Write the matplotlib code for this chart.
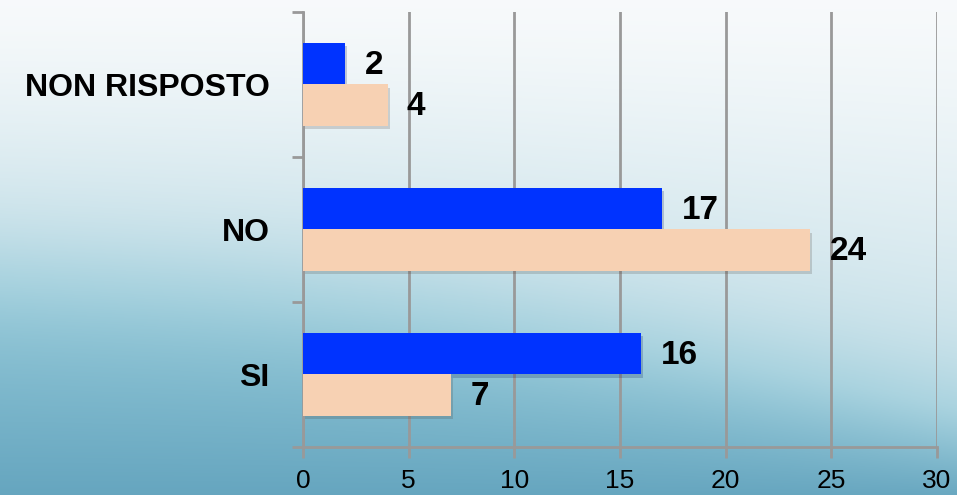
import numpy as np
import matplotlib.pyplot as plt
import matplotlib.patheffects as pe

categorie = ['SI', 'NO', 'NON RISPOSTO']
serie_blu = [16, 17, 2]
serie_pesca = [7, 24, 4]
tick_x = [0, 5, 10, 15, 20, 25, 30]

fig = plt.figure(figsize=(9.57, 4.95), dpi=100)

# sfondo: sfumatura chiara in alto, fascia azzurra in basso separata da un'onda
bg = fig.add_axes([0, 0, 1, 1])
xx, yy = np.meshgrid(np.linspace(0, 1, 480), np.linspace(0, 1, 250))
linea = 0.56 + 0.26 * xx - 0.05 * np.sin(xx * 3.2)
sopra_a = np.array([0.97, 0.98, 0.985])
sopra_b = np.array([0.76, 0.87, 0.905])
sotto_a = np.array([0.58, 0.79, 0.85])
sotto_b = np.array([0.40, 0.65, 0.75])
f1 = np.clip(yy / linea, 0, 1)[..., None] ** 1.3
sopra = sopra_a * (1 - f1) + sopra_b * f1
f2 = np.clip((yy - linea) / (1 - linea + 1e-6), 0, 1)[..., None]
sotto = sotto_a * (1 - f2) + sotto_b * f2
w = 1 / (1 + np.exp(-(yy - linea) / 0.06))
img = sopra * (1 - w[..., None]) + sotto * w[..., None]
bg.imshow(img, aspect='auto', extent=[0, 1, 0, 1], origin='upper')
bg.axis('off')

ax = fig.add_axes([0.3166, 0.097, 0.9791 - 0.3166, 0.879])
ax.patch.set_alpha(0)

pos = np.arange(len(categorie))
h = 0.286
ombra = [pe.SimplePatchShadow(offset=(1.5, -2.5), alpha=0.2), pe.Normal()]
b1 = ax.barh(pos + h / 2, serie_blu, height=h, color='#0033ff', zorder=3)
b2 = ax.barh(pos - h / 2, serie_pesca, height=h, color='#f7d1b3', zorder=3)
for b in list(b1) + list(b2):
    b.set_path_effects(ombra)

for bars, vals in ((b1, serie_blu), (b2, serie_pesca)):
    for b, v in zip(bars, vals):
        ax.annotate(str(v), (v, b.get_y() + b.get_height() / 2),
                    xytext=(14, -1), textcoords='offset points',
                    va='center', ha='left', fontsize=24, fontweight='bold',
                    family='Liberation Sans', zorder=4)

ax.set_xlim(0, 30)
ax.set_ylim(-0.5, 2.5)
ax.set_xticks(tick_x)
ax.set_xticklabels([str(v) for v in tick_x], fontsize=19, family='Liberation Sans')
ax.set_yticks([-0.5, 0.5, 1.5, 2.5])
ax.set_yticklabels([])
ax.set_yticks(pos, minor=True)
ax.set_yticklabels(categorie, minor=True, fontsize=23, fontweight='bold',
                   family='Liberation Sans')
ax.tick_params(axis='y', which='minor', length=0, pad=24)
ax.tick_params(axis='y', which='major', length=8, width=2, color='#999999')
ax.tick_params(axis='x', length=8, width=2, color='#999999', pad=8)

ax.grid(axis='x', color='#999999', linewidth=2, zorder=1)
for s in ('top', 'right'):
    ax.spines[s].set_visible(False)
for s in ('left', 'bottom'):
    ax.spines[s].set_color('#999999')
    ax.spines[s].set_linewidth(2)

fig.savefig('out.png', dpi=100)
